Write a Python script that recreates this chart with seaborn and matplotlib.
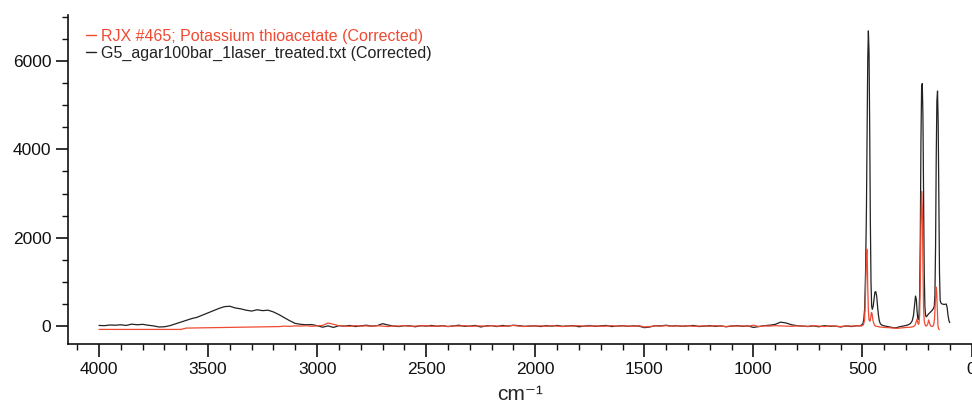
import numpy as np
import pandas as pd
import matplotlib
matplotlib.use("Agg")
import matplotlib.pyplot as plt
import seaborn as sns
from matplotlib.ticker import MultipleLocator

# ---------------- data ----------------
WN_FLAT = [
    4000, 3975, 3950, 3925, 3900, 3875, 3850, 3825, 3800, 3775,
    3750, 3725, 3700, 3675, 3650, 3625, 3600, 3575, 3550, 3525,
    3500, 3475, 3450, 3425, 3400, 3375, 3350, 3325, 3300, 3275,
    3250, 3225, 3200, 3175, 3150, 3125, 3100, 3075, 3050, 3025,
    3000, 2975, 2950, 2925, 2900, 2875, 2850, 2825, 2800, 2775,
    2750, 2725, 2700, 2675, 2650, 2625, 2600, 2575, 2550, 2525,
    2500, 2475, 2450, 2425, 2400, 2375, 2350, 2325, 2300, 2275,
    2250, 2225, 2200, 2175, 2150, 2125, 2100, 2075, 2050, 2025,
    2000, 1975, 1950, 1925, 1900, 1875, 1850, 1825, 1800, 1775,
    1750, 1725, 1700, 1675, 1650, 1625, 1600, 1575, 1550, 1525,
    1500, 1475, 1450, 1425, 1400, 1375, 1350, 1325, 1300, 1275,
    1250, 1225, 1200, 1175, 1150, 1125, 1100, 1075, 1050, 1025,
    1000, 975, 950, 925, 900, 875, 850, 825, 800, 775,
    750, 725, 700, 675, 650, 625, 600, 575, 550, 525,
]
BLACK_FLAT = [
    15, 10, 25, 20, 30, 15, 45, 30, 40, 20,
    5, -20, -15, 10, 50, 90, 130, 170, 200, 250,
    300, 350, 400, 440, 450, 410, 390, 360, 340, 370,
    350, 360, 320, 260, 190, 120, 60, 40, 30, 35,
    10, -25, 5, -30, 10, 0, 15, -10, 5, 20,
    0, 10, 55, 25, 0, -10, 10, 5, -15, 10,
    0, 15, -5, 10, -10, 5, 20, -5, 0, 15,
    -20, 5, 10, -10, 15, 0, 20, 10, -5, 0,
    5, -10, 10, 0, 15, -5, 5, 10, -15, 0,
    10, -5, 5, 15, -10, 0, 10, -5, 5, 0,
    -35, -20, 10, 5, 20, 0, 10, -5, 5, 15,
    -10, 0, 10, -5, 5, -15, 0, 10, -5, 5,
    -30, -10, 10, 20, 40, 90, 70, 30, 10, 0,
    -10, 5, -15, 10, -5, 0, -20, 5, -10, 10,
]
RED_FLAT = [
    -75, -75, -75, -75, -75, -75, -75, -75, -75, -75,
    -75, -75, -75, -75, -75, -75, -45, -43, -41, -39,
    -37, -35, -33, -31, -29, -27, -25, -23, -21, -19,
    -17, -15, -13, -11, 0, -5, 5, 0, 10, -5,
    5, 15, 70, 40, 10, 0, -5, 10, 0, 5,
    -5, 10, 0, -10, 5, 0, 10, -5, 0, 5,
    10, -5, 0, 5, -10, 5, 0, 10, -5, 0,
    5, -5, 10, 0, -5, 5, 15, 0, -10, 5,
    0, 5, -5, 10, 0, -10, 5, 0, 10, -5,
    0, 5, -5, 0, 10, -5, 5, 0, -5, 10,
    -20, -10, 5, 0, 10, -5, 5, 0, 10, -5,
    0, 5, -5, 10, 0, -10, 5, 0, 5, -5,
    20, -10, 5, 0, 10, 5, 0, -5, 5, 0,
    -5, 10, 0, -10, 5, 0, -10, 5, 0, 5,
]
WN_BLACK_PEAKS = [
    515, 505, 498, 494, 490, 486, 482, 479, 476, 473,
    470, 467, 464, 461, 458, 455, 451, 447, 443, 439,
    435, 431, 427, 423, 418, 410, 400, 390, 380, 370,
    360, 350, 340, 330, 320, 310, 300, 290, 280, 272,
    266, 261, 257, 253, 250, 247, 244, 241, 238, 235,
    232, 229, 226, 223, 220, 217, 214, 211, 208, 204,
    198, 192, 186, 180, 175, 171, 168, 165, 162, 159,
    156, 153, 150, 147, 144, 140, 135, 130, 125, 120,
    116, 112, 108, 104, 100,
]
BLACK_PEAKS = [
    5, 20, 60, 150, 400, 1200, 2600, 4300, 6000, 6680,
    6200, 4500, 2400, 1000, 450, 380, 450, 620, 770, 780,
    680, 450, 250, 120, 50, 20, 5, -5, -15, -25,
    -35, -40, -30, -15, -5, 5, 15, 30, 60, 120,
    250, 500, 680, 600, 350, 200, 150, 250, 700, 2000,
    4200, 5400, 5490, 4800, 3000, 1200, 450, 250, 210, 230,
    270, 300, 330, 360, 400, 450, 700, 1800, 3800, 5100,
    5320, 4600, 2800, 1200, 580, 520, 500, 495, 490, 495,
    500, 420, 250, 130, 80,
]
WN_RED_PEAKS = [
    515, 505, 496, 491, 488, 485, 482, 480, 478, 476,
    473, 470, 466, 462, 459, 456, 452, 448, 444, 440,
    430, 420, 400, 380, 360, 340, 320, 300, 280, 265,
    258, 254, 250, 247, 244, 241, 238, 235, 232, 229,
    226, 223, 220, 217, 213, 209, 205, 200, 197, 194,
    190, 186, 180, 174, 170, 167, 164, 162, 160, 157,
    154, 151, 148,
]
RED_PEAKS = [
    10, 0, 30, 120, 400, 1000, 1550, 1740, 1500, 900,
    350, 140, 110, 200, 310, 280, 130, 60, 20, 0,
    -10, -20, -30, -35, -45, -50, -40, -30, -25, -10,
    30, 100, 160, 90, 40, 60, 250, 1000, 2300, 3050,
    2700, 1400, 400, 120, 30, 0, 10, 60, 140, 90,
    30, 0, -10, 20, 150, 450, 750, 880, 780, 400,
    0, -60, -80,
]
LABEL_RED = "RJX #465; Potassium thioacetate (Corrected)"
LABEL_BLACK = "G5_agar100bar_1laser_treated.txt (Corrected)"
X_TICKS = [4000, 3500, 3000, 2500, 2000, 1500, 1000, 500, 0]
Y_TICKS = [0, 2000, 4000, 6000]
X_LABEL = "cm\u207b\u00b9"

# ---------------- build frames ----------------
black = pd.DataFrame({"wn": WN_FLAT + WN_BLACK_PEAKS, "I": BLACK_FLAT + BLACK_PEAKS})
red = pd.DataFrame({"wn": WN_FLAT + WN_RED_PEAKS, "I": RED_FLAT + RED_PEAKS})

sns.set_theme(style="ticks")
plt.rcParams["font.family"] = ["Liberation Sans", "DejaVu Sans"]

RED_C = "#f04a32"
BLACK_C = "#222222"

fig = plt.figure(figsize=(9.72, 4.03), dpi=100)
ax = fig.add_axes([68 / 972, 59 / 403, (972 - 68) / 972, (344 - 15) / 403])

sns.lineplot(data=black, x="wn", y="I", ax=ax, color=BLACK_C, lw=0.9,
             estimator=None, sort=False, label=LABEL_BLACK, zorder=2)
sns.lineplot(data=red, x="wn", y="I", ax=ax, color=RED_C, lw=0.9,
             estimator=None, sort=False, label=LABEL_RED, zorder=3)

ax.set_xlim(4142, -2)
ax.set_ylim(-405, 7040)
ax.set_xticks(X_TICKS)
ax.set_yticks(Y_TICKS)
ax.xaxis.set_minor_locator(MultipleLocator(100))
ax.yaxis.set_minor_locator(MultipleLocator(500))

for s in ["top", "right"]:
    ax.spines[s].set_visible(False)
for s in ["left", "bottom"]:
    ax.spines[s].set_linewidth(1.2)
    ax.spines[s].set_color("#111111")

ax.tick_params(axis="both", which="major", direction="out", length=9,
               width=1.2, colors="#111111", labelsize=12.5, pad=3)
ax.tick_params(axis="both", which="minor", direction="out", length=4.5,
               width=1.0, colors="#111111")
ax.tick_params(axis="x", which="major", pad=4)

ax.set_xlabel(X_LABEL, fontsize=15, labelpad=6)
ax.set_ylabel("")

h, l = ax.get_legend_handles_labels()
order = [l.index(LABEL_RED), l.index(LABEL_BLACK)]
leg = ax.legend([h[i] for i in order], [l[i] for i in order],
                loc="upper left", bbox_to_anchor=(86 / 972, 1 - 29 / 403),
                bbox_transform=fig.transFigure, frameon=False,
                fontsize=11.5, handlelength=0.6, handletextpad=0.35,
                labelspacing=0.12, borderpad=0, borderaxespad=0,
                labelcolor="linecolor")
for line in leg.get_lines():
    line.set_linewidth(1.0)

fig.savefig("out.png", dpi=100)
